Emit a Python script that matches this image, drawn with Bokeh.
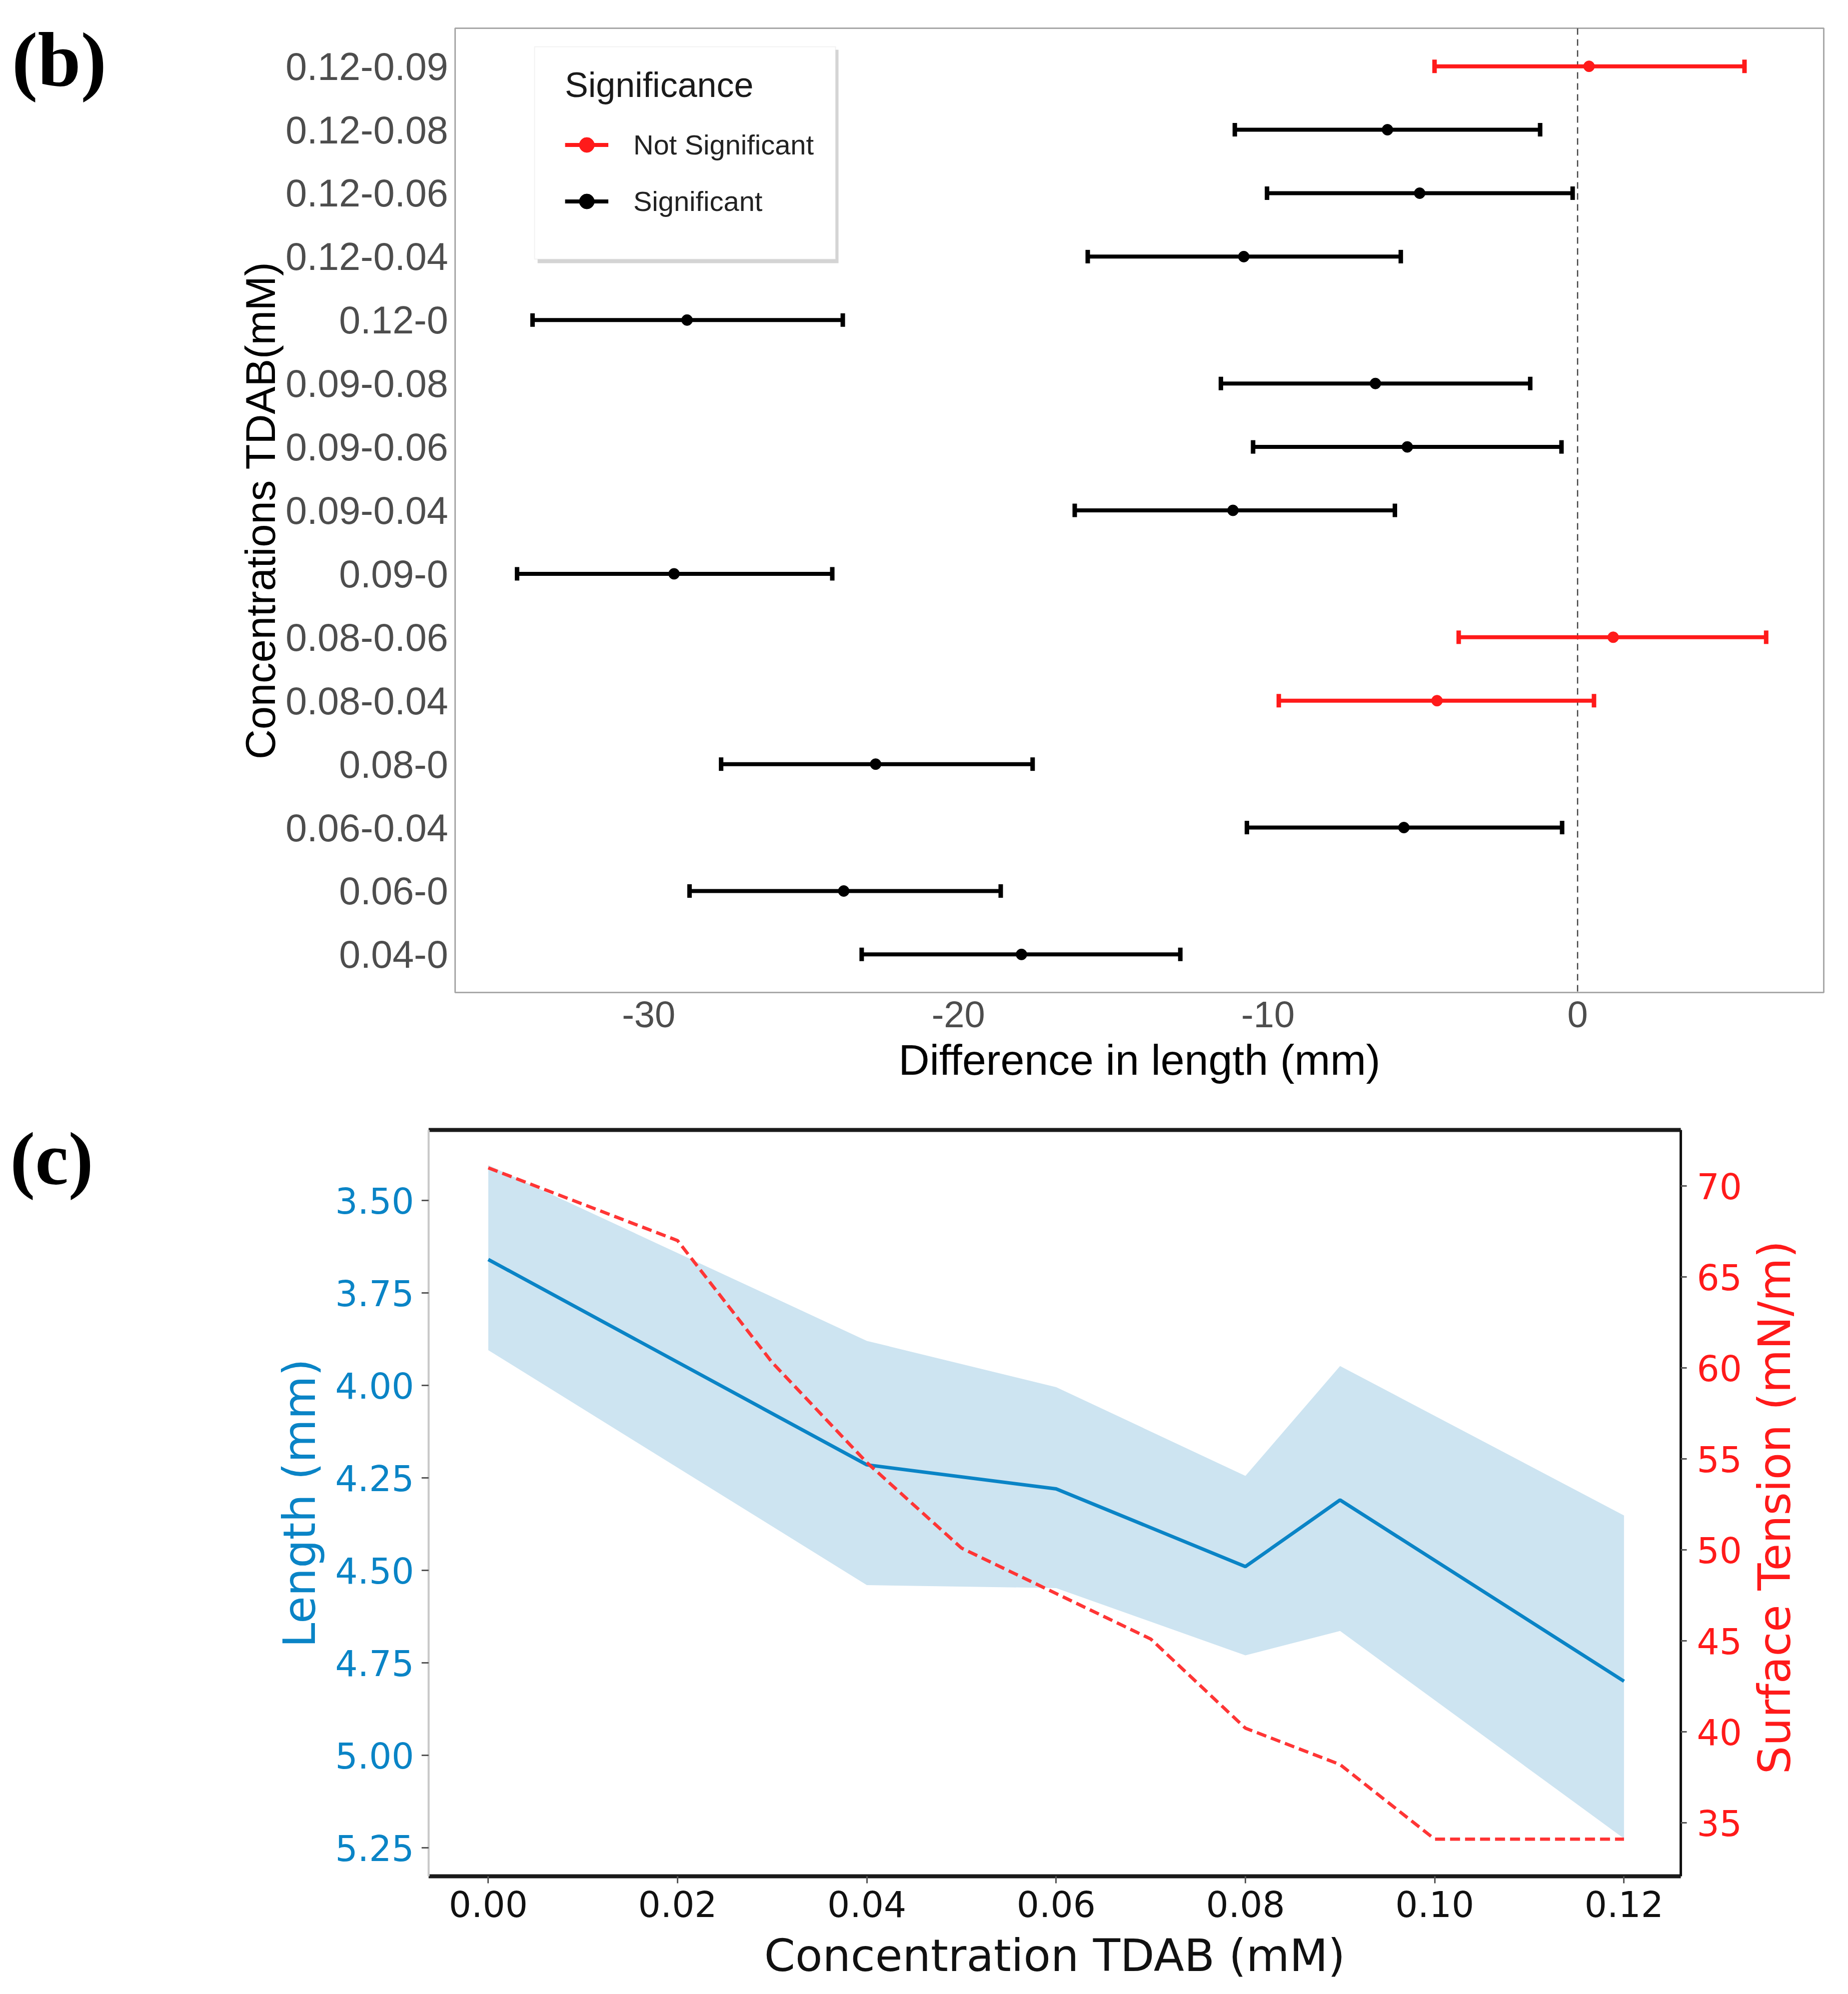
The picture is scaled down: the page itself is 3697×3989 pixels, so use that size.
import math
from bokeh.plotting import figure
from bokeh.models import (FactorRange, Range1d, LinearAxis, FixedTicker, Whisker, TeeHead,
                          ColumnDataSource, Span, Legend, LegendItem, BoxAnnotation,
                          PrintfTickFormatter)
from bokeh.layouts import column, row
from bokeh.core.properties import value
from bokeh.embed import file_html
from bokeh.resources import INLINE

# ---------------- data: panel (b) ----------------
comparisons = ["0.12-0.09", "0.12-0.08", "0.12-0.06", "0.12-0.04", "0.12-0",
               "0.09-0.08", "0.09-0.06", "0.09-0.04", "0.09-0",
               "0.08-0.06", "0.08-0.04", "0.08-0", "0.06-0.04", "0.06-0", "0.04-0"]
diff = [0.37, -6.14, -5.10, -10.78, -28.76, -6.53, -5.50, -11.13, -29.18,
        1.15, -4.54, -22.67, -5.61, -23.70, -17.96]
lwr = [-4.62, -11.07, -10.03, -15.82, -33.75, -11.52, -10.48, -16.24, -34.25,
       -3.84, -9.65, -27.66, -10.68, -28.68, -23.12]
upr = [5.39, -1.21, -0.16, -5.71, -23.73, -1.53, -0.52, -5.90, -24.07,
       6.09, 0.53, -17.60, -0.50, -18.63, -12.83]
significance = ["Not Significant", "Significant", "Significant", "Significant", "Significant",
                "Significant", "Significant", "Significant", "Significant",
                "Not Significant", "Not Significant", "Significant", "Significant",
                "Significant", "Significant"]
x_ticks_b = [-30, -20, -10, 0]

# ---------------- data: panel (c) ----------------
conc = [0.00, 0.04, 0.06, 0.08, 0.09, 0.12]
length_mean = [3.66, 4.215, 4.28, 4.49, 4.31, 4.80]
length_lo = [3.405, 3.88, 4.005, 4.245, 3.948, 4.352]
length_hi = [3.905, 4.54, 4.548, 4.73, 4.664, 5.225]
st_conc = [0.00, 0.02, 0.03, 0.04, 0.05, 0.06, 0.07, 0.08, 0.09, 0.10, 0.12]
surface_tension = [71.0, 67.0, 60.3, 54.8, 50.1, 47.6, 45.1, 40.2, 38.2, 34.1, 34.1]
x_ticks_c = [0.00, 0.02, 0.04, 0.06, 0.08, 0.10, 0.12]
len_ticks = [3.50, 3.75, 4.00, 4.25, 4.50, 4.75, 5.00, 5.25]
st_ticks = [35, 40, 45, 50, 55, 60, 65, 70]

SANS = "Liberation Sans"
DJ = "DejaVu Sans"
SERIF = "Liberation Serif"
RED = "#ff1a1a"
BLUE = "#0a84c6"


def blank(w, h, top, bottom):
    f = figure(frame_width=w, frame_height=h, x_range=Range1d(0, w), y_range=Range1d(0, h),
               min_border_left=0, min_border_right=0, min_border_top=top, min_border_bottom=bottom,
               x_axis_type=None, y_axis_type=None, output_backend="svg", toolbar_location=None)
    f.outline_line_color = None
    f.background_fill_color = "white"
    f.border_fill_color = "white"
    return f


# ================= panel (b) =================
B_TOP, B_H, B_BOT = 56, 1929, 215
LAB_W = 300

factors = list(reversed(comparisons))
pb = figure(y_range=FactorRange(factors=factors, range_padding=0.1, range_padding_units="absolute"),
            x_range=Range1d(-36.25, 7.95),
            frame_width=2738, frame_height=B_H,
            min_border_left=910 - LAB_W, min_border_right=5,
            min_border_top=B_TOP, min_border_bottom=B_BOT,
            output_backend="svg", toolbar_location=None)
pb.background_fill_color = "white"
pb.border_fill_color = "white"
pb.outline_line_color = "#a8a8a8"
pb.outline_line_width = 3
pb.xgrid.visible = False
pb.ygrid.visible = False

zero = Span(location=0, dimension="height", line_color="#444444", line_width=2.5,
            line_dash="13 9", level="underlay")
pb.add_layout(zero)

legend_items = []
for group, col in [("Not Significant", RED), ("Significant", "black")]:
    idx = [i for i, s in enumerate(significance) if s == group]
    src = ColumnDataSource(dict(comp=[comparisons[i] for i in idx],
                                diff=[diff[i] for i in idx],
                                lwr=[lwr[i] for i in idx],
                                upr=[upr[i] for i in idx]))
    seg = pb.segment(x0="lwr", y0="comp", x1="upr", y1="comp", source=src,
                     line_color=col, line_width=8)
    wh = Whisker(base="comp", lower="lwr", upper="upr", dimension="width", source=src,
                 line_alpha=0,
                 upper_head=TeeHead(size=27, line_width=9, line_color=col),
                 lower_head=TeeHead(size=27, line_width=9, line_color=col))
    pb.add_layout(wh)
    dot = pb.scatter(x="diff", y="comp", source=src, size=22, fill_color=col, line_color=col)
    legend_items.append(LegendItem(label=group, renderers=[seg, dot]))

# legend frame (box + soft shadow) drawn separately from the legend content
shadow = BoxAnnotation(left=165, right=767, bottom=1459, top=1886,
                       left_units="screen", right_units="screen",
                       bottom_units="screen", top_units="screen",
                       fill_color="#000000", fill_alpha=0.17, line_color=None)
pb.add_layout(shadow)
lbox = BoxAnnotation(left=159, right=761, bottom=1467, top=1892,
                     left_units="screen", right_units="screen",
                     bottom_units="screen", top_units="screen",
                     fill_color="white", fill_alpha=1.0, line_color="#d4d4d4", line_width=2)
pb.add_layout(lbox)

legend = Legend(items=legend_items, title="Significance", location=(220, 1545),
                margin=0, padding=40, spacing=38, glyph_width=87, glyph_height=75,
                label_height=60, label_standoff=50, title_standoff=42,
                title_text_font=SANS, title_text_font_size="70px",
                title_text_font_style="normal", title_text_color="#1a1a1a",
                label_text_font=SANS, label_text_font_size="56px", label_text_color="#222222",
                border_line_color=None, background_fill_alpha=0.0)
pb.add_layout(legend)

xa = pb.xaxis[0]
xa.ticker = FixedTicker(ticks=x_ticks_b)
xa.major_label_overrides = {t: str(t) for t in x_ticks_b}
xa.axis_label = "Difference in length (mm)"
ya = pb.yaxis[0]
ya.axis_label = "Concentrations TDAB(mM)"
for ax in (xa, ya):
    ax.axis_line_color = None
    ax.major_tick_line_color = None
    ax.minor_tick_line_color = None
    ax.major_label_text_font = SANS
    ax.major_label_text_font_size = "74px"
    ax.major_label_text_color = "#4d4d4d"
    ax.axis_label_text_font = SANS
    ax.axis_label_text_font_size = "86px"
    ax.axis_label_text_font_style = "normal"
    ax.axis_label_text_color = "black"
xa.major_label_standoff = 12
xa.axis_label_standoff = 14
ya.major_label_text_font_size = "77px"
ya.major_label_standoff = 8
ya.axis_label_text_font_size = "83px"
ya.axis_label_standoff = 0

lab_b = blank(LAB_W, B_H, B_TOP, B_BOT)
lab_b.text(x=[118], y=[B_H - 63], text=["(b)"], text_font=value(SERIF), text_font_style="bold",
           text_font_size="155px", text_align="center", text_baseline="middle",
           text_color="black")
fill_b = blank(3680 - LAB_W - (910 - LAB_W) - 2738 - 5, B_H, B_TOP, B_BOT)

row_b = row(lab_b, pb, fill_b, spacing=0)

# ================= panel (c) =================
C_TOP, C_H, C_BOT = 60, 1493, 228
C_LEFT, C_W, C_RIGHT = 857 - LAB_W, 2505, 135
RT_W = 3680 - LAB_W - C_LEFT - C_W - C_RIGHT

pc = figure(x_range=Range1d(-0.0063, 0.126), y_range=Range1d(5.327, 3.31),
            frame_width=C_W, frame_height=C_H,
            min_border_left=C_LEFT, min_border_right=C_RIGHT,
            min_border_top=C_TOP, min_border_bottom=C_BOT,
            output_backend="svg", toolbar_location=None)
pc.extra_y_ranges = {"st": Range1d(32.06, 73.08)}
pc.background_fill_color = "white"
pc.border_fill_color = "white"
pc.outline_line_color = None
pc.xgrid.visible = False
pc.ygrid.visible = False

pc.varea(x=conc, y1=length_lo, y2=length_hi, fill_color="#cde4f1", fill_alpha=1.0)
pc.line(x=conc, y=length_mean, line_color=BLUE, line_width=7)
pc.line(x=st_conc, y=surface_tension, y_range_name="st", line_color="#ff3535",
        line_width=6.5, line_dash="20 10")

cx = pc.xaxis[0]
cx.ticker = FixedTicker(ticks=x_ticks_c)
cx.formatter = PrintfTickFormatter(format="%.2f")
cx.axis_label = "Concentration TDAB (mM)"
cx.major_label_text_color = "#111111"
cx.axis_label_text_color = "#111111"
cx.axis_line_color = "#1a1a1a"
cx.axis_line_width = 8
cx.major_label_standoff = 14
cx.axis_label_standoff = 22

cy = pc.yaxis[0]
cy.ticker = FixedTicker(ticks=len_ticks)
cy.formatter = PrintfTickFormatter(format="%.2f")
cy.axis_label = "Length (mm)"
cy.major_label_text_color = BLUE
cy.axis_label_text_color = BLUE
cy.axis_line_color = "#c8c8c8"
cy.axis_line_width = 4
cy.major_label_standoff = 15
cy.axis_label_standoff = 16

ry = LinearAxis(y_range_name="st", ticker=FixedTicker(ticks=st_ticks),
                formatter=PrintfTickFormatter(format="%d"))
ry.major_label_text_color = RED
ry.axis_line_color = "#111111"
ry.axis_line_width = 5
ry.major_label_standoff = 20
pc.add_layout(ry, "right")

for ax in (cx, cy, ry):
    ax.major_tick_in = 0
    ax.major_tick_out = 14
    ax.major_tick_line_width = 3
    ax.major_tick_line_color = "#555555"
    ax.minor_tick_line_color = None
    ax.major_label_text_font = DJ
    ax.major_label_text_font_size = "71px"
    ax.axis_label_text_font = DJ
    ax.axis_label_text_font_size = "89px"
    ax.axis_label_text_font_style = "normal"
ry.major_tick_out = 12

top = LinearAxis(axis_line_color="#1a1a1a", axis_line_width=8, ticker=FixedTicker(ticks=[]),
                 major_tick_line_color=None, minor_tick_line_color=None)
pc.add_layout(top, "above")

lab_c = blank(LAB_W, C_H, C_TOP, C_BOT)
lab_c.text(x=[103], y=[C_H - 57], text=["(c)"], text_font=value(SERIF), text_font_style="bold",
           text_font_size="150px", text_align="center", text_baseline="middle",
           text_color="black")

rt = blank(RT_W, C_H, C_TOP, C_BOT)
rt.text(x=[52], y=[C_H - 755], text=["Surface Tension (mN/m)"], angle=math.pi / 2,
        text_font=value(DJ), text_font_size="89px", text_color=RED,
        text_align="center", text_baseline="middle")

row_c = row(lab_c, pc, rt, spacing=0)

layout = column(row_b, row_c, spacing=0)
open("out.html", "w").write(file_html(layout, INLINE))
